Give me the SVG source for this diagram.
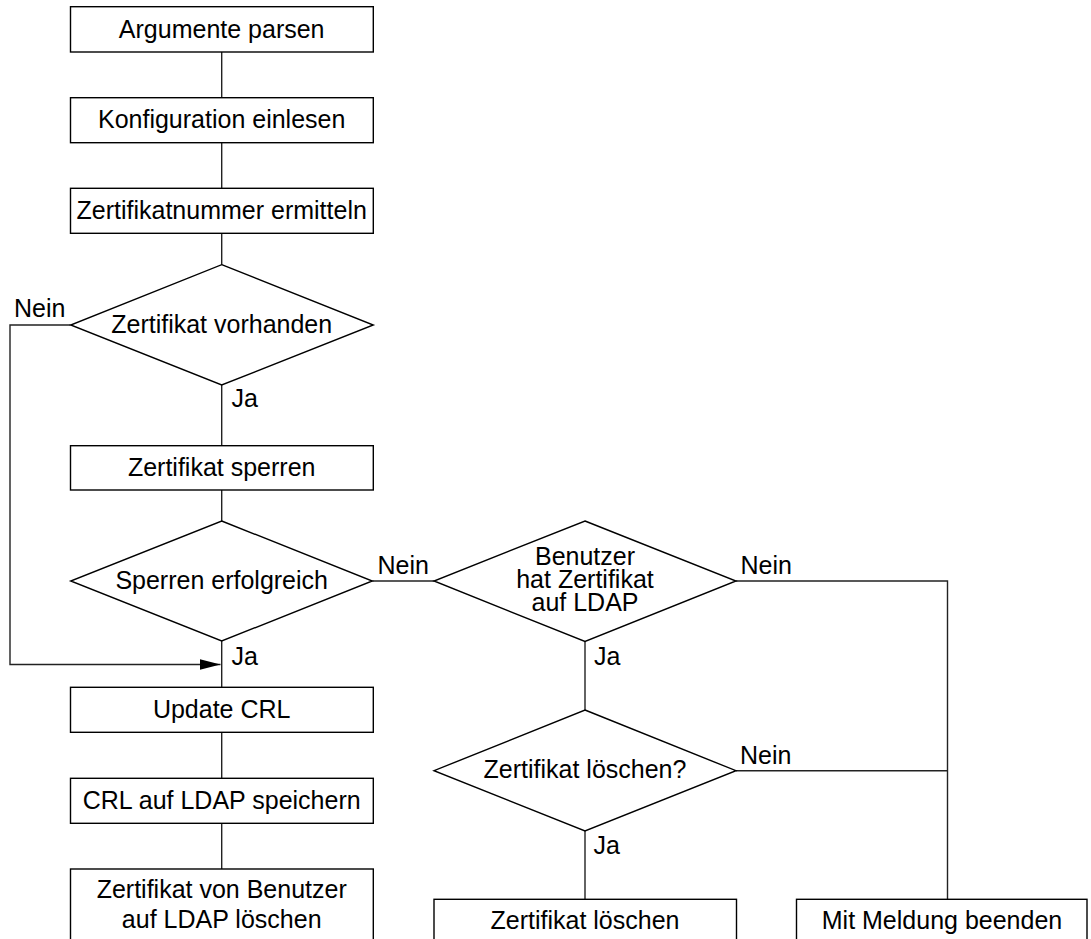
<svg xmlns="http://www.w3.org/2000/svg" width="1091" height="939" viewBox="0 0 1091 939">
  <style>
    text { font-family: "Liberation Sans", Arial, sans-serif; font-size: 25px; fill: #000; }
    .c { text-anchor: middle; }
    .shape { fill: #fff; stroke: #000; stroke-width: 1.4; }
    .edge { fill: none; stroke: #222; stroke-width: 1.4; }
  </style>
  <defs>
    <marker id="arrow" markerWidth="22" markerHeight="12" refX="21" refY="6" orient="auto" markerUnits="userSpaceOnUse">
      <path d="M0,0.5 L21,6 L0,11.5 Z" fill="#000"/>
    </marker>
  </defs>

  <!-- connectors -->
  <g id="connectors">
    <path class="edge" d="M221.7,52 V97.7"/>
    <path class="edge" d="M221.7,142.7 V188.3"/>
    <path class="edge" d="M221.7,233.3 V264.7"/>
    <path class="edge" d="M221.7,385 V445.7"/>
    <path class="edge" d="M221.7,490 V521"/>
    <path class="edge" d="M221.7,641 V687.3"/>
    <path class="edge" d="M221.7,732.3 V778.3"/>
    <path class="edge" d="M221.7,823.3 V869"/>
    <path class="edge" d="M70.7,325 H10 V664.5 H220.5" marker-end="url(#arrow)"/>
    <path class="edge" d="M372.3,581 H434"/>
    <path class="edge" d="M585,641.5 V710"/>
    <path class="edge" d="M585,831 V899"/>
    <path class="edge" d="M736,581 H947.5 V899"/>
    <path class="edge" d="M736,770.7 H947.5"/>
    <text x="14" y="317">Nein</text>
    <text x="231.5" y="407">Ja</text>
    <text x="231.5" y="664.5">Ja</text>
    <text x="377.5" y="573.5">Nein</text>
    <text x="740.5" y="573.5">Nein</text>
    <text x="594" y="664.5">Ja</text>
    <text x="740" y="763.5">Nein</text>
    <text x="593.5" y="854">Ja</text>
  </g>

  <g id="argumente-parsen">
    <rect class="shape" x="70.5" y="6.7" width="302.8" height="45.3"/>
    <text class="c" x="221.7" y="37.5">Argumente parsen</text>
  </g>
  <g id="konfiguration-einlesen">
    <rect class="shape" x="70.5" y="97.7" width="302.8" height="45"/>
    <text class="c" x="221.7" y="128.3">Konfiguration einlesen</text>
  </g>
  <g id="zertifikatnummer-ermitteln">
    <rect class="shape" x="70.5" y="188.3" width="302.8" height="45"/>
    <text class="c" x="221.7" y="219">Zertifikatnummer ermitteln</text>
  </g>
  <g id="zertifikat-vorhanden">
    <polygon class="shape" points="221.7,264.7 373.3,325 221.7,385 70.7,325"/>
    <text class="c" x="221.7" y="332.5">Zertifikat vorhanden</text>
  </g>
  <g id="zertifikat-sperren">
    <rect class="shape" x="70.5" y="445.7" width="302.8" height="44.3"/>
    <text class="c" x="221.7" y="476">Zertifikat sperren</text>
  </g>
  <g id="sperren-erfolgreich">
    <polygon class="shape" points="221.7,521 372.3,581 221.7,641 70.7,581"/>
    <text class="c" x="221.7" y="588.5">Sperren erfolgreich</text>
  </g>
  <g id="update-crl">
    <rect class="shape" x="70.5" y="687.3" width="302.8" height="45"/>
    <text class="c" x="221.7" y="718">Update CRL</text>
  </g>
  <g id="crl-speichern">
    <rect class="shape" x="70.5" y="778.3" width="302.8" height="45"/>
    <text class="c" x="221.7" y="809">CRL auf LDAP speichern</text>
  </g>
  <g id="zertifikat-von-benutzer-loeschen">
    <rect class="shape" x="70.5" y="869" width="302.8" height="90"/>
    <text class="c" x="221.7" y="898">Zertifikat von Benutzer</text>
    <text class="c" x="221.7" y="928">auf LDAP löschen</text>
  </g>
  <g id="benutzer-hat-zertifikat">
    <polygon class="shape" points="585,521 736,581 585,641.5 434,581"/>
    <text class="c" x="585" y="565">Benutzer</text>
    <text class="c" x="585" y="588">hat Zertifikat</text>
    <text class="c" x="585" y="611">auf LDAP</text>
  </g>
  <g id="zertifikat-loeschen-frage">
    <polygon class="shape" points="585,710 736,770.7 585,831 434,770.7"/>
    <text class="c" x="585" y="778">Zertifikat löschen?</text>
  </g>
  <g id="zertifikat-loeschen">
    <rect class="shape" x="434" y="899.3" width="302.5" height="60"/>
    <text class="c" x="585" y="928.5">Zertifikat löschen</text>
  </g>
  <g id="mit-meldung-beenden">
    <rect class="shape" x="796.5" y="899.3" width="290.5" height="60"/>
    <text class="c" x="942" y="928.5">Mit Meldung beenden</text>
  </g>
</svg>
